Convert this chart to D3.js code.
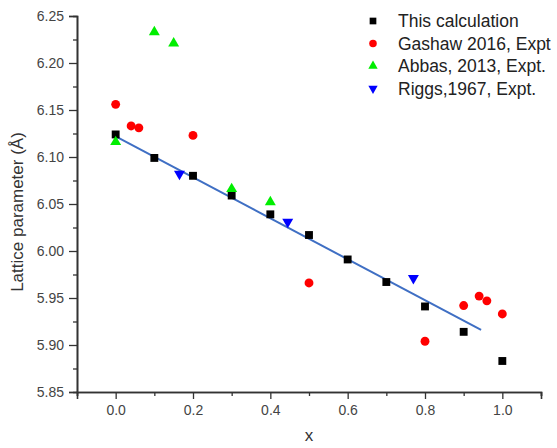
<!DOCTYPE html>
<html>
<head>
<meta charset="utf-8">
<script src="https://cdnjs.cloudflare.com/ajax/libs/d3/7.8.5/d3.min.js"></script>
<style>
  body { margin: 0; background: #fff; }
  svg { display: block; font-family: "Liberation Sans", Arial, sans-serif; }
</style>
</head>
<body>
<div id="chart"></div>
<script>
// data
var calcX = [0, 0.1, 0.2, 0.3, 0.4, 0.5, 0.6, 0.7, 0.8, 0.9, 1.0]
var calcY = [6.124, 6.099, 6.080, 6.059, 6.039, 6.017, 5.991, 5.967, 5.941, 5.914, 5.883]

var gashawX = [0, 0.04, 0.06, 0.2, 0.5, 0.8, 0.9, 0.94, 0.96, 1.0]
var gashawY = [6.156, 6.133, 6.131, 6.123, 5.966, 5.904, 5.942, 5.952, 5.947, 5.933]

var abbasX = [0, 0.1, 0.15, 0.3, 0.4]
var abbasY = [6.116, 6.233, 6.221, 6.066, 6.052]

var riggsX = [0.165, 0.445, 0.77]
var riggsY = [6.082, 6.031, 5.971]

var fitX = [0, 0.945]
var fitY = [6.122, 5.916]

var seriesNames = ["This calculation", "Gashaw 2016, Expt", "Abbas, 2013, Expt.", "Riggs,1967, Expt."]

var xMajor = [0, 0.2, 0.4, 0.6, 0.8, 1.0]
var xMinor = [-0.1, 0.1, 0.3, 0.5, 0.7, 0.9, 1.1]
var yMajor = [5.85, 5.90, 5.95, 6.00, 6.05, 6.10, 6.15, 6.20, 6.25]
var yMinor = [5.875, 5.925, 5.975, 6.025, 6.075, 6.125, 6.175, 6.225]

function createChart(width, height){
	var svg = d3.select("#chart")
		.append("svg")
		.attr("width", width)
		.attr("height", height)

	var x = d3.scaleLinear().domain([-0.1, 1.1]).range([77, 541])
	var y = d3.scaleLinear().domain([5.85, 6.25]).range([392, 16])
	var axisColor = "#333"

	// minor ticks first, then majors with labels
	svg.append("g")
		.attr("transform", "translate(0," + y(5.85) + ")")
		.call(d3.axisBottom(x).tickValues(xMinor).tickSize(4).tickFormat(""))
	svg.append("g")
		.attr("class", "xaxis")
		.attr("transform", "translate(0," + y(5.85) + ")")
		.call(d3.axisBottom(x).tickValues(xMajor).tickSize(7).tickPadding(6).tickFormat(d3.format(".1f")))
	svg.append("g")
		.attr("transform", "translate(" + x(-0.1) + ",0)")
		.call(d3.axisLeft(y).tickValues(yMinor).tickSize(4).tickFormat(""))
	svg.append("g")
		.attr("class", "yaxis")
		.attr("transform", "translate(" + x(-0.1) + ",0)")
		.call(d3.axisLeft(y).tickValues(yMajor).tickSize(8).tickPadding(5).tickFormat(d3.format(".2f")))

	svg.selectAll(".domain").attr("stroke", axisColor).attr("stroke-width", 1.6)
	svg.selectAll(".tick line").attr("stroke", axisColor).attr("stroke-width", 1.3)
	svg.selectAll(".tick text").attr("fill", "#444").style("font-size", "14px")

	svg.append("text")
		.attr("x", x(0.5))
		.attr("y", 441)
		.attr("text-anchor", "middle")
		.attr("fill", "#333")
		.style("font-size", "17px")
		.text("x")
	svg.append("text")
		.attr("transform", "translate(23," + 212 + ") rotate(-90)")
		.attr("text-anchor", "middle")
		.attr("fill", "#333")
		.style("font-size", "17px")
		.text("Lattice parameter (Å)")

	// fit line
	svg.append("path")
		.datum(d3.zip(fitX, fitY))
		.attr("fill", "none")
		.attr("stroke", "#3f6fc4")
		.attr("stroke-width", 2)
		.attr("d", d3.line().x(function(d){return x(d[0]);}).y(function(d){return y(d[1]);}))

	var triUp = d3.symbol().type(d3.symbolTriangle).size(52)
	var circle = d3.symbol().type(d3.symbolCircle).size(62)
	var square = d3.symbol().type(d3.symbolSquare).size(62)

	function plot(xs, ys, sym, color, flip){
		svg.append("g").selectAll("path")
			.data(d3.zip(xs, ys))
			.enter().append("path")
			.attr("d", sym)
			.attr("fill", color)
			.attr("transform", function(d){
				return "translate(" + x(d[0]) + "," + y(d[1]) + ")" + (flip ? " rotate(180)" : "")
			})
	}

	plot(calcX, calcY, square, "#000", false)
	plot(gashawX, gashawY, circle, "#ff0000", false)
	plot(abbasX, abbasY, triUp, "#00ee00", false)
	plot(riggsX, riggsY, triUp, "#0000ff", true)

	// legend
	var legendSyms = [square, circle, triUp, triUp]
	var legendColors = ["#000", "#ff0000", "#00ee00", "#0000ff"]
	var legend = svg.append("g")
	seriesNames.forEach(function(name, i){
		var cy = 21 + i * 22.5
		legend.append("path")
			.attr("d", legendSyms[i])
			.attr("fill", legendColors[i])
			.attr("transform", "translate(373," + cy + ")" + (i == 3 ? " rotate(180)" : "") + " scale(0.85)")
		legend.append("text")
			.attr("x", 398)
			.attr("y", cy + 6)
			.attr("fill", "#222")
			.style("font-size", "17.5px")
			.text(name)
	})
}

createChart(557, 448)
</script>
</body>
</html>
